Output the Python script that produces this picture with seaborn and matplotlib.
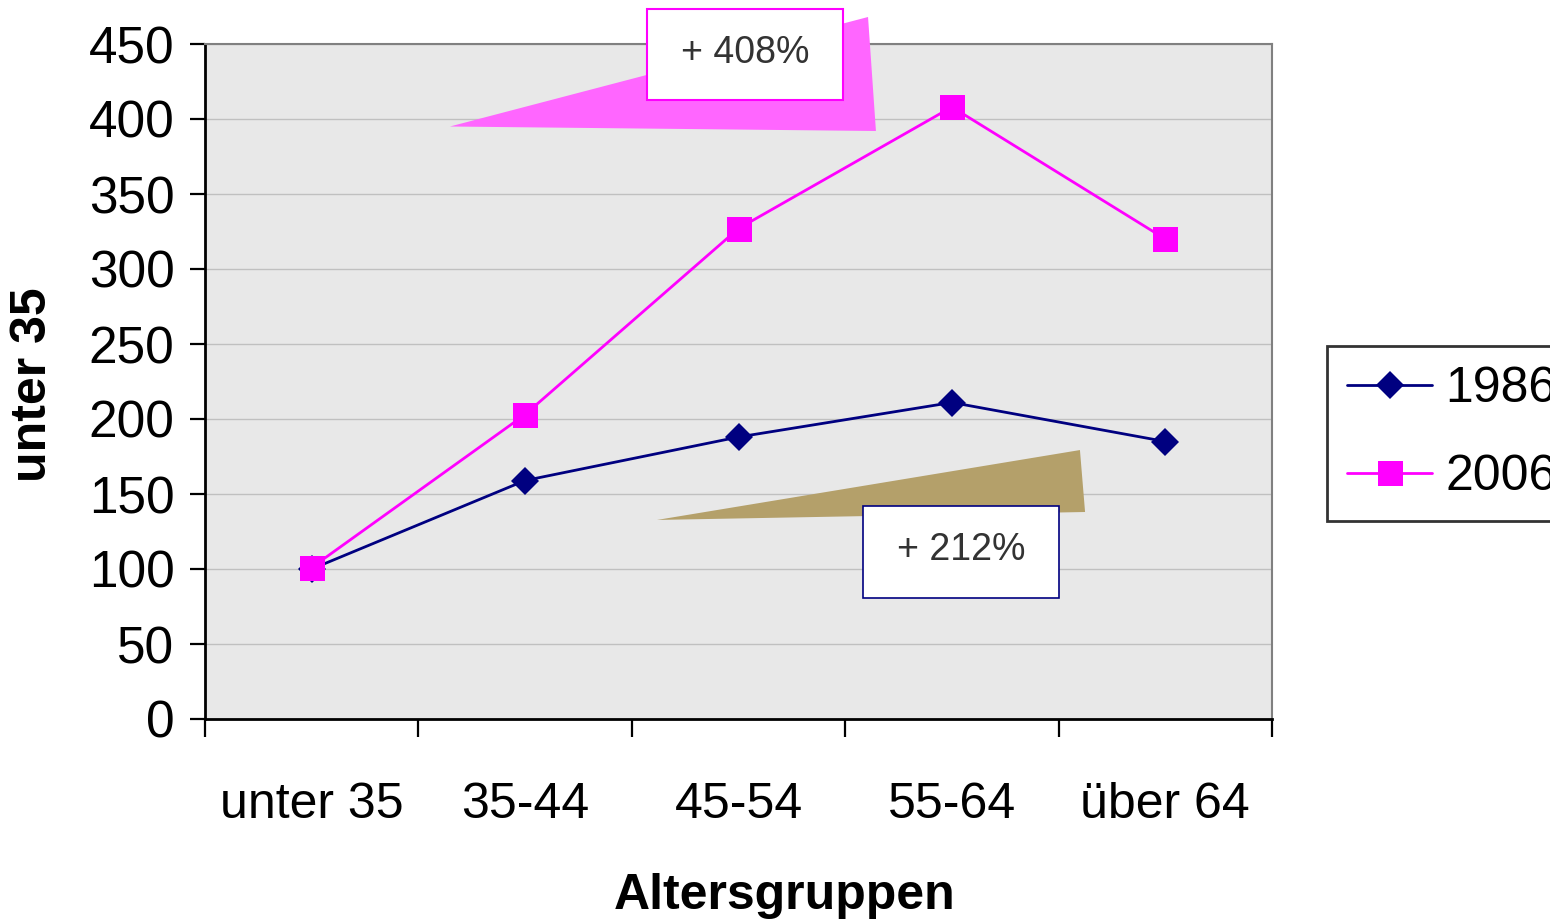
import pandas as pd
import matplotlib
matplotlib.use("Agg")
import matplotlib.pyplot as plt
import seaborn as sns
from matplotlib.patches import Polygon, Rectangle
from matplotlib.lines import Line2D

# Daten
altersgruppen = ["unter 35", "35-44", "45-54", "55-64", "über 64"]
werte_1986 = [100, 159, 188, 211, 185]
werte_2006 = [101, 203, 327, 408, 320]
jahre = ["1986", "2006"]
farben = ["#000080", "#ff00ff"]
marker = ["D", "s"]
zuwachs = ["+ 408%", "+ 212%"]

df = pd.DataFrame({
    "gruppe": altersgruppen * 2,
    "wert": werte_1986 + werte_2006,
    "jahr": [jahre[0]] * len(werte_1986) + [jahre[1]] * len(werte_2006),
})
df["pos"] = df["gruppe"].map({g: i for i, g in enumerate(altersgruppen)})

sns.set_style("ticks")
plt.rcParams["font.family"] = ["Liberation Sans", "DejaVu Sans"]
plt.rcParams["text.color"] = "black"
plt.rcParams["xtick.color"] = "black"
plt.rcParams["ytick.color"] = "black"
plt.rcParams["axes.labelcolor"] = "black"

fig = plt.figure(figsize=(15.5, 9.23), dpi=100)
ax = fig.add_axes([205 / 1550, 1 - 719 / 923, 1067 / 1550, 675 / 923])
ax.set_facecolor("#e8e8e8")

groessen = {"D": 14, "s": 18}
for jahr, farbe, m in zip(jahre, farben, marker):
    sns.lineplot(data=df[df["jahr"] == jahr], x="pos", y="wert", color=farbe,
                 marker=m, markersize=groessen[m], markeredgewidth=0, linewidth=2,
                 ax=ax, zorder=5, legend=False)

ax.set_xlim(-0.5, 4.5)
ax.set_ylim(0, 450)
ax.set_yticks(range(0, 451, 50))
ax.yaxis.grid(True, color="#c0c0c0", linewidth=1)
ax.set_axisbelow(True)

# Striche an den Kategoriegrenzen, Beschriftung mittig
ax.set_xticks([i - 0.5 for i in range(len(altersgruppen) + 1)])
ax.set_xticklabels([])
ax.set_xticks(range(len(altersgruppen)), minor=True)
ax.set_xticklabels(altersgruppen, minor=True)
ax.tick_params(axis="x", which="major", length=13, width=1.6, color="black", direction="out")
ax.tick_params(axis="x", which="minor", length=0, pad=45, labelsize=36)
ax.tick_params(axis="y", length=11, width=1.6, color="black", direction="out", labelsize=37, pad=11)

for s in ["left", "bottom"]:
    ax.spines[s].set_color("black")
    ax.spines[s].set_linewidth(2)
for s in ["top", "right"]:
    ax.spines[s].set_color("#808080")
    ax.spines[s].set_linewidth(1.5)

ax.set_xlabel("Altersgruppen", fontsize=36, fontweight="bold")
ax.set_ylabel("unter 35", fontsize=36, fontweight="bold")
ax.xaxis.set_label_coords(0.5436, -0.228)
ax.yaxis.set_label_coords(-0.14, 0.495)

# Zuwachs-Hinweise
ax.add_patch(Polygon([(0.648, 395), (2.607, 468), (2.644, 392)], closed=True,
                     facecolor="#ff66ff", edgecolor="none", clip_on=False, zorder=3))
ax.add_patch(Rectangle((1.571, 412.7), 0.919, 60.6, facecolor="white",
                       edgecolor="#ff00ff", linewidth=1.5, clip_on=False, zorder=4))
ax.text(2.03, 444, zuwachs[0], ha="center", va="center", fontsize=27,
        color="#333333", zorder=6)

ax.add_patch(Polygon([(1.618, 132.7), (3.600, 179.3), (3.624, 138)], closed=True,
                     facecolor="#b4a06a", edgecolor="none", zorder=3))
ax.add_patch(Rectangle((2.583, 80.7), 0.919, 61.3, facecolor="white",
                       edgecolor="#000080", linewidth=1.2, zorder=4))
ax.text(3.043, 112.5, zuwachs[1], ha="center", va="center", fontsize=27,
        color="#333333", zorder=6)

handles = [Line2D([], [], color=f, marker=m, markersize=groessen[m],
                  markeredgewidth=0, linewidth=2) for f, m in zip(farben, marker)]
leg = fig.legend(handles, jahre, loc="upper left", bbox_to_anchor=(1327 / 1550, 1 - 346 / 923),
                 fontsize=36, frameon=True, fancybox=False, handlelength=1.7,
                 handletextpad=0.26, labelspacing=0.85, borderpad=0.4, borderaxespad=0)
leg.get_frame().set_edgecolor("black")
leg.get_frame().set_linewidth(2)

fig.savefig("out.png", dpi=100)
